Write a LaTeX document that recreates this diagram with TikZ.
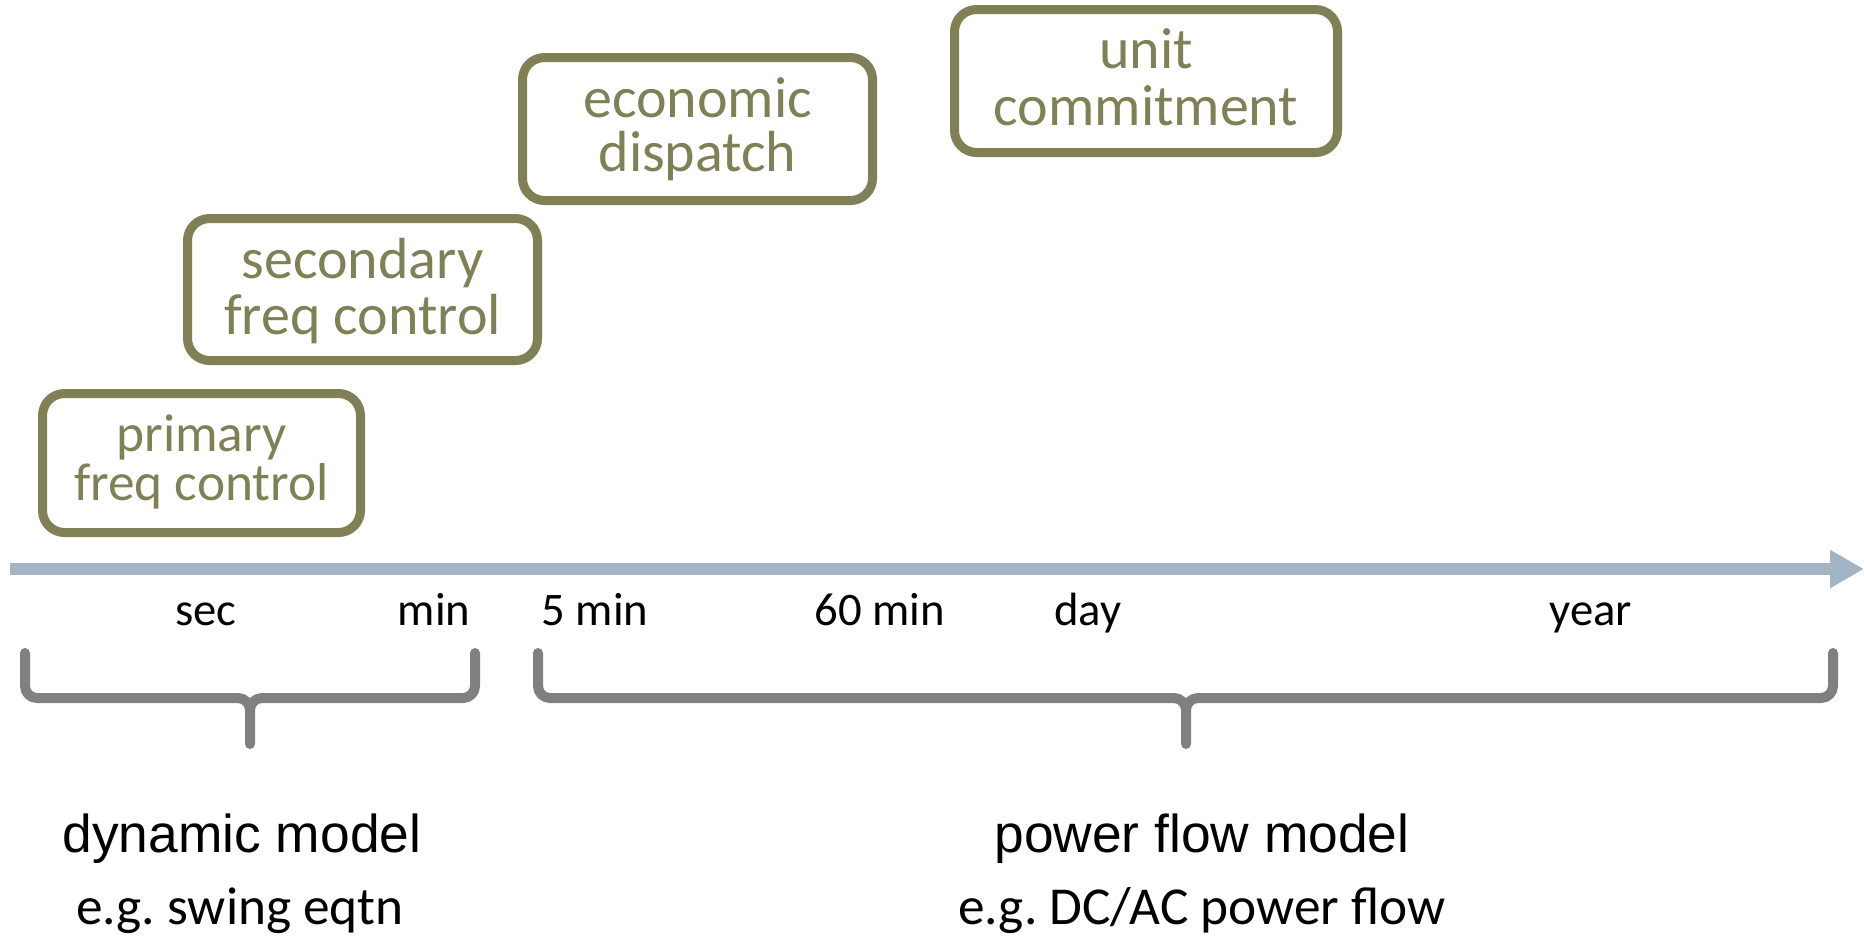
\documentclass[tikz,border=0pt]{standalone}
\usepackage{fontspec}
\setmainfont{Carlito}
\newfontfamily\arialf{Liberation Sans}
\usetikzlibrary{arrows.meta}
\definecolor{boxol}{RGB}{128,128,86}
\definecolor{axisblue}{RGB}{163,180,196}
\definecolor{bracegray}{RGB}{128,128,128}
\frenchspacing
\begin{document}
\begin{tikzpicture}[x=0.75pt,y=-0.75pt,
  tbox/.style={draw=boxol, line width=6.75pt, rounded corners=16.5pt, inner sep=0pt, fill=white},
  btxt/.style={text=boxol, font=\fontsize{43.5}{43.5}\selectfont, anchor=base, inner sep=0pt},
  btxts/.style={text=boxol, font=\fontsize{40}{40}\selectfont, anchor=base, inner sep=0pt},
  tick/.style={text=black, font=\fontsize{35}{35}\selectfont, anchor=base, inner sep=0pt},
  mtitle/.style={text=black, font=\arialf\fontsize{40}{40}\selectfont, anchor=base, inner sep=0pt},
  msub/.style={text=black, font=\fontsize{40}{40}\selectfont, anchor=base, inner sep=0pt},
  axisline/.style={draw=axisblue, line width=9pt, -{Triangle[length=25.5pt,width=27pt]}},
  bracestyle/.style={draw=bracegray, line width=7.5pt, line cap=round, line join=round}]
\useasboundingbox (0,0) rectangle (1864,936);

% boxes
\node[tbox, minimum width=238.5pt, minimum height=104.25pt] (pfc) at (201.5,463) {};
\node[btxts] (pfc1) at (201.5,451) {primary};
\node[btxts] (pfc2) at (201.5,500) {freq control};

\node[tbox, minimum width=262.5pt, minimum height=106.5pt] (sfc) at (362.5,289.5) {};
\node[btxt] (sfc1) at (362.5,278) {secondary};
\node[btxt] (sfc2) at (362.5,334) {freq control};

\node[tbox, minimum width=262.5pt, minimum height=107.25pt] (ed) at (697.5,129) {};
\node[btxt] (ed1) at (697.5,117) {economic};
\node[btxt] (ed2) at (697.5,171) {dispatch};

\node[tbox, minimum width=287.25pt, minimum height=107.25pt] (uc) at (1146,81) {};
\node[btxt] (uc1) at (1146,68) {unit};
\node[btxt] (uc2) at (1146,125) {commitment};

% time axis
\coordinate (ax0) at (10,569);
\coordinate (ax1) at (1864,569);
\draw[axisline] (ax0) -- (ax1);

% tick labels
\node[tick] (tsec) at (206,625) {sec};
\node[tick] (tmin) at (434,625) {min};
\node[tick] (t5) at (595,625) {5 min};
\node[tick] (t60) at (880,625) {60 min};
\node[tick] (tday) at (1088,625) {day};
\node[tick] (tyear) at (1591,625) {year};

% left brace
\draw[bracestyle] (25,653) -- (25,686) to[out=-90,in=180] (37,698) -- (238,698)
  to[out=0,in=90] (250,710) -- (250,744);
\draw[bracestyle] (250,710) to[out=90,in=180] (262,698) -- (463,698)
  to[out=0,in=-90] (475,686) -- (475,653);

% right brace
\draw[bracestyle] (538,653) -- (538,686) to[out=-90,in=180] (550,698) -- (1174,698)
  to[out=0,in=90] (1186,710) -- (1186,744);
\draw[bracestyle] (1186,710) to[out=90,in=180] (1198,698) -- (1821,698)
  to[out=0,in=-90] (1833,686) -- (1833,653);

% model labels
\node[mtitle] (dm) at (242,852) {dynamic model};
\node[msub] (dms) at (240,924) {e.g. swing eqtn};
\node[mtitle] (pm) at (1202,852) {power flow model};
\node[msub] (pms) at (1202,924) {e.g. DC/AC power flow};
\end{tikzpicture}
\end{document}
